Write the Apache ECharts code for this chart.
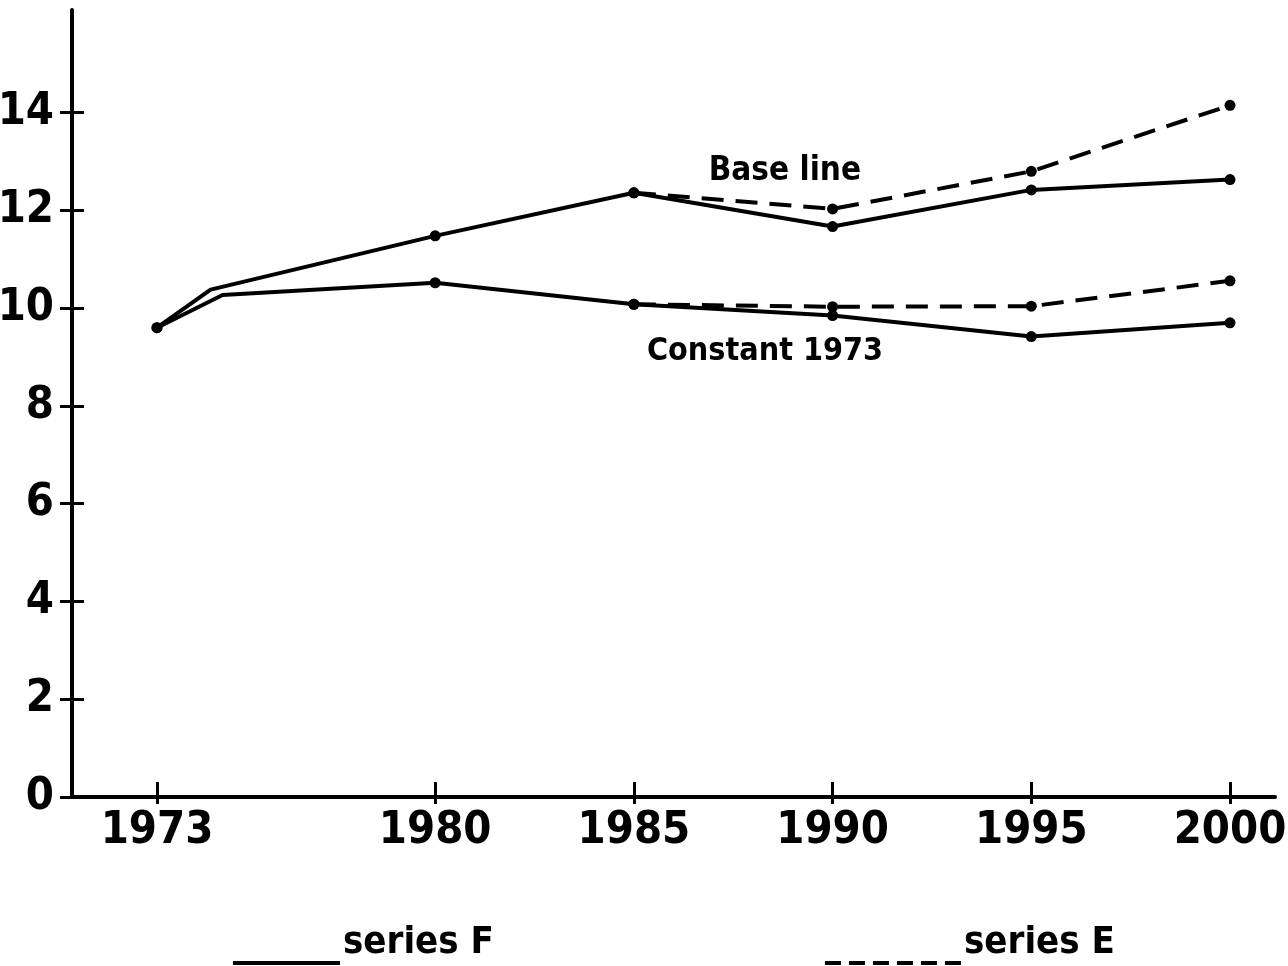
<!DOCTYPE html>
<html>
<head>
<meta charset="utf-8">
<script src="https://cdn.jsdelivr.net/npm/echarts@6/dist/echarts.min.js"></script>
<style>
html,body{margin:0;padding:0;background:#fff;}
#chart{width:1288px;height:966px;}
</style>
</head>
<body>
<div id="chart"></div>
<script>
// ---- data ----
const xTicks = [1973, 1980, 1985, 1990, 1995, 2000];
const yTicks = [0, 2, 4, 6, 8, 10, 12, 14];
const baseYears = [1973, 1974.35, 1980, 1985, 1990, 1995, 2000];
const baseF = [9.6, 10.38, 11.48, 12.36, 11.67, 12.42, 12.63];
const baseEYears = [1985, 1990, 1995, 2000];
const baseE = [12.36, 12.03, 12.8, 14.15];
const constYears = [1973, 1974.65, 1980, 1985, 1990, 1995, 2000];
const constF = [9.6, 10.27, 10.52, 10.08, 9.85, 9.42, 9.7];
const constEYears = [1985, 1990, 1995, 2000];
const constE = [10.08, 10.03, 10.04, 10.56];
const seriesNames = ['series F', 'series E'];
const curveLabels = ['Base line', 'Constant 1973'];
const labelAnchors = [[1988.8, 12.79], [1988.3, 9.1]];
const unmarkedYears = [1974.35, 1974.65];

const FONT = "'Liberation Sans Narrow', 'DejaVu Sans Condensed', sans-serif";

function pts(xs, ys) {
  return xs.map((x, i) => {
    const d = { value: [x, ys[i]] };
    if (unmarkedYears.includes(x)) d.symbol = 'none';
    return d;
  });
}

const solid = { color: '#000', width: 4, type: 'solid' };
const dashed = { color: '#000', width: 4, type: [22, 12] };

function lineSeries(name, data, ls, label, anchor, fs) {
  const s = {
    type: 'line', name: name, data: data,
    xAxisIndex: 0, yAxisIndex: 0,
    symbol: 'circle', symbolSize: 11,
    itemStyle: { color: '#000' },
    lineStyle: ls,
    animation: false, z: 5
  };
  if (label) {
    s.markPoint = {
      symbol: 'circle', symbolSize: 1, itemStyle: { color: 'rgba(0,0,0,0)' },
      label: { show: true, position: 'inside', formatter: label, color: '#000',
               fontFamily: FONT, fontWeight: 'bold', fontSize: fs },
      data: [{ coord: anchor }]
    };
  }
  return s;
}

const chart = echarts.init(document.getElementById('chart'), null, { renderer: 'canvas' });
const axisLine = { show: true, lineStyle: { color: '#000', width: 4 } };
const labelFont = { color: '#000', fontFamily: FONT, fontWeight: 'bold', fontSize: 45 };
const X_MIN = 1970.862, X_MAX = 2001.132;

chart.setOption({
  backgroundColor: '#fff',
  animation: false,
  grid: { left: 72, right: 13, top: 10, bottom: 169, containLabel: false, outerBoundsMode: 'none' },
  xAxis: [
    {
      type: 'value', min: X_MIN, max: X_MAX,
      axisLine: axisLine,
      axisTick: { show: true, inside: false, length: 7, customValues: xTicks, lineStyle: { color: '#000', width: 3 } },
      axisLabel: Object.assign({ show: true, customValues: xTicks, margin: 12, formatter: v => String(v) }, labelFont),
      splitLine: { show: false }
    },
    {
      type: 'value', min: X_MIN, max: X_MAX, position: 'bottom', offset: 0,
      axisLine: { show: false },
      axisTick: { show: true, inside: true, length: 15, customValues: xTicks, lineStyle: { color: '#000', width: 3 } },
      axisLabel: { show: false }, splitLine: { show: false }
    }
  ],
  yAxis: [
    {
      type: 'value', min: 0, max: 16.1,
      axisLine: axisLine,
      axisTick: { show: true, inside: false, length: 12, customValues: yTicks, lineStyle: { color: '#000', width: 3 } },
      axisLabel: Object.assign({ show: true, customValues: yTicks, margin: 18 }, labelFont),
      splitLine: { show: false }
    },
    {
      type: 'value', min: 0, max: 16.1, position: 'left', offset: 0,
      axisLine: { show: false },
      axisTick: { show: true, inside: true, length: 12, customValues: yTicks, lineStyle: { color: '#000', width: 3 } },
      axisLabel: { show: false }, splitLine: { show: false }
    }
  ],
  legend: [
    {
      data: [{ name: seriesNames[0], icon: 'path://M0,0 M0,40h107v4h-107z' }],
      left: 228, top: 916, itemWidth: 107, itemHeight: 44, itemGap: 0,
      selectedMode: false,
      textStyle: { color: '#000', fontFamily: FONT, fontWeight: 'bold', fontSize: 38, padding: [0, 0, 0, -2] }
    },
    {
      data: [{ name: seriesNames[1],
               icon: 'path://M0,0 M0,40h16v4h-16z M24,40h16v4h-16z M48,40h16v4h-16z M72,40h16v4h-16z M96,40h16v4h-16z M120,40h16v4h-16z' }],
      left: 820, top: 916, itemWidth: 136, itemHeight: 44,
      selectedMode: false,
      textStyle: { color: '#000', fontFamily: FONT, fontWeight: 'bold', fontSize: 38, padding: [0, 0, 0, -2] }
    }
  ],
  series: [
    lineSeries(seriesNames[0], pts(baseYears, baseF), solid, curveLabels[0], labelAnchors[0], 33),
    lineSeries(seriesNames[1], pts(baseEYears, baseE), dashed),
    lineSeries(seriesNames[0], pts(constYears, constF), solid, curveLabels[1], labelAnchors[1], 32),
    lineSeries(seriesNames[1], pts(constEYears, constE), dashed)
  ]
});
</script>
</body>
</html>
